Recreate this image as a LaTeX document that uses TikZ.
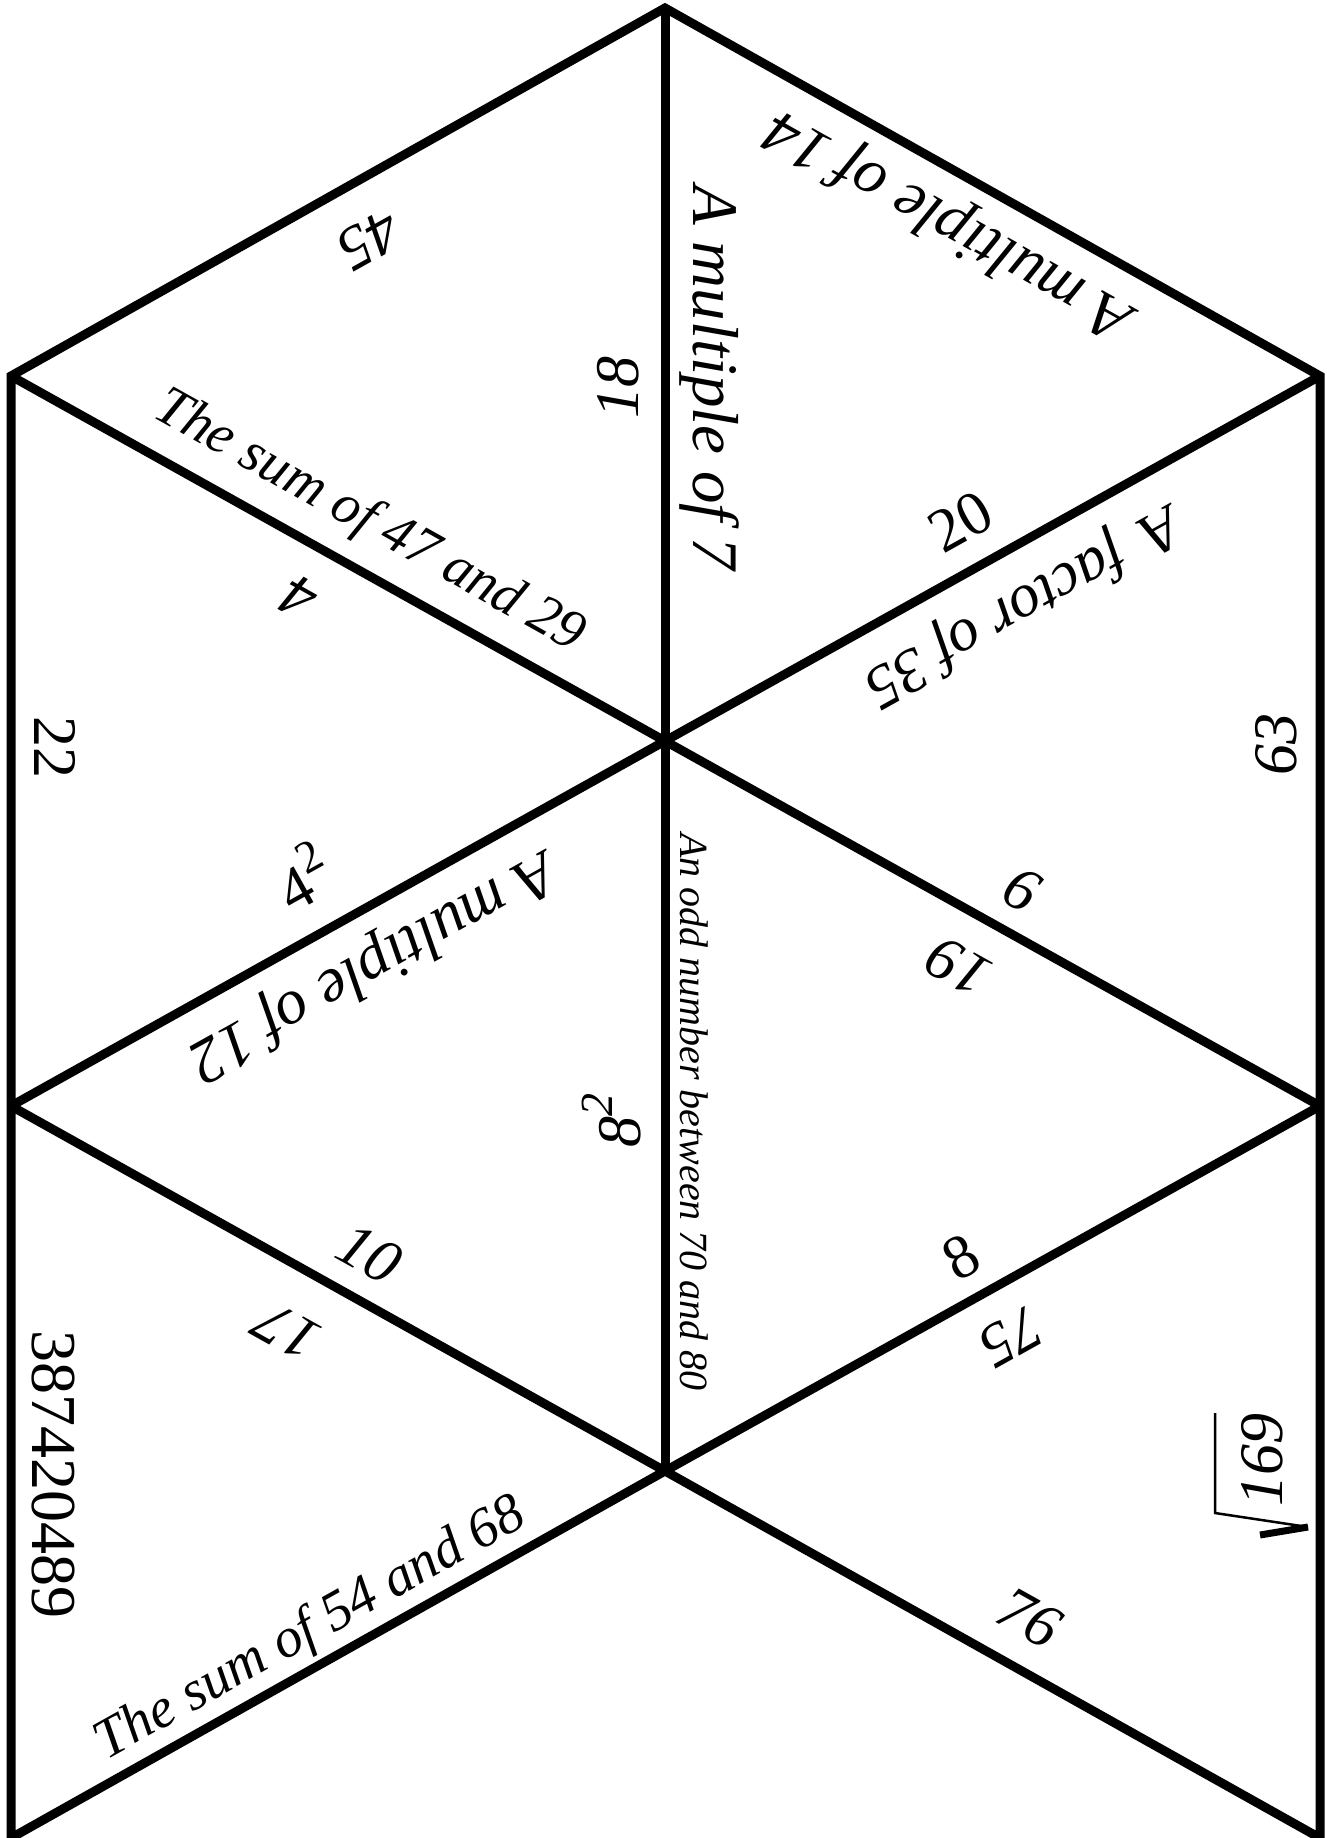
\documentclass[tikz,border=0pt]{standalone}
\usepackage{fontspec}
\setmainfont{Liberation Serif}
\newcommand{\supnum}[1]{\raisebox{0.45em}{\fontsize{46}{46}\selectfont #1}}
\tikzset{
  edge/.style={line width=9pt, black, line join=miter},
  lab/.style={inner sep=0pt, outer sep=0pt},
  itlab/.style={lab, font=\fontsize{#1}{#1}\selectfont\itshape},
  itlab/.default=62,
  rmlab/.style={lab, font=\fontsize{#1}{#1}\selectfont},
  rmlab/.default=62
}
\begin{document}
\begin{tikzpicture}[x=1pt,y=-1pt]
\useasboundingbox (0,0) rectangle (1326,1838);
\fill[white] (0,0) rectangle (1326,1838);
% vertices
\coordinate (A)  at (665,8);
\coordinate (UL) at (11,376);
\coordinate (UR) at (1320,376);
\coordinate (C)  at (665,741);
\coordinate (ML) at (11,1106);
\coordinate (MR) at (1320,1106);
\coordinate (LC) at (665,1471);
\coordinate (BL) at (11,1838);
\coordinate (BR) at (1320,1838);
% edges
\draw[edge] (A) -- (UL) -- (BL) -- (LC) -- (BR) -- (UR) -- cycle;
\draw[edge] (A) -- (LC);
\draw[edge] (UL) -- (C) -- (UR);
\draw[edge] (ML) -- (C) -- (MR);
\draw[edge] (ML) -- (LC) -- (MR);
% top-left triangle
\node[itlab, rotate=209.2] (t45) at (369,240) {45};
\node[itlab, rotate=90] (t18) at (618,387) {18};
\node[itlab=56, rotate=-29.2] (ts47) at (369,522) {The sum of 47 and 29};
% top-right triangle
\node[itlab=65, rotate=-90] (tm7) at (709,378) {A multiple of 7};
\node[itlab=64, rotate=150.8] (tm14) at (950,223) {A multiple of 14};
\node[rmlab, rotate=29.2] (t20) at (961,522) {20};
% left triangle
\node[itlab, rotate=150.8] (t4) at (299,598) {4};
\node[rmlab, rotate=-90] (t22) at (55,747) {22};
\node[rmlab, rotate=29.2] (t4sq) at (302,876) {4\supnum{2}};
% right triangle
\node[itlab=62, rotate=209.2] (tf35) at (1022,604) {A \,factor of 35};
\node[itlab, rotate=90] (t63) at (1276,744) {63};
\node[itlab, rotate=-29.2] (t6) at (1022,889) {6};
% centre-left triangle
\node[itlab=64, rotate=209.2] (tm12) at (372,964) {A multiple of 12};
\node[itlab, rotate=90] (t8sq) at (612,1120) {8\supnum{2}};
\node[itlab, rotate=-29.2] (t10) at (369,1254) {10};
% centre-right triangle
\node[itlab, rotate=150.8] (t19) at (959,967) {19};
\node[itlab=40, rotate=-90] (todd) at (694,1112) {An odd number between 70 and 80};
\node[rmlab, rotate=29.2] (t8) at (961,1257) {8};
% bottom-left triangle
\node[itlab, rotate=150.8] (t17) at (287,1331) {17};
\node[rmlab=64, rotate=-90] (tbig) at (53,1474) {387420489};
\node[itlab=56, rotate=29.2] (ts54) at (311,1630) {The sum of 54 and 68};
% bottom-right triangle
\node[itlab, rotate=209.2] (t75) at (1011,1337) {75};
\node[itlab, rotate=90] (tsq) at (1262,1460) {169};
\begin{scope}[shift={(tsq.center)}, rotate=90]
  \draw[line width=7pt] (-75,-2) -- (-67,46);
  \draw[line width=2.5pt, line join=miter] (-67,46) -- (-53,-47) -- (47,-47);
\end{scope}
\node[itlab, rotate=-29.2] (t76) at (1029,1618) {76};
\end{tikzpicture}
\end{document}
